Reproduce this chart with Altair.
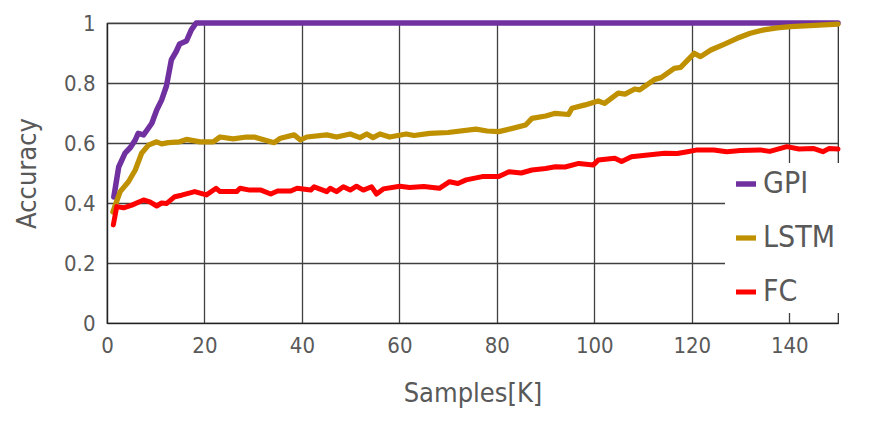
import altair as alt
import pandas as pd

gpi_x = [1.4, 2.4, 3.7, 4.8, 5.8, 6.4, 7.5, 8.3, 9.2, 10.2, 11.2, 12.2, 13.2, 14.2, 14.9, 16.3, 17.3, 18.3, 20, 150]
gpi_y = [0.42, 0.52, 0.566, 0.585, 0.61, 0.632, 0.627, 0.645, 0.666, 0.71, 0.743, 0.79, 0.877, 0.905, 0.93, 0.94, 0.977, 1.0, 1.0, 1.0]

lstm_x = [1.2, 2.7, 4.4, 5.8, 7.1, 8.5, 10.2, 11.2, 12.6, 14.9, 16.3, 19.1, 21.8, 23.2, 25.9, 28.6, 30.2, 34.3,
          35.6, 38.4, 39.7, 41, 45.1, 47.1, 49.9, 51.9, 53.3, 54.6, 56, 58, 61.4, 63, 66.2, 70, 75.7, 78, 80.4,
          83, 85.9, 87.2, 90, 92, 94.7, 95.4, 98.1, 100.8, 102.1, 104.9, 106.3, 108.3, 109.3, 112.4, 113.7,
          116.4, 117.7, 120.5, 121.8, 123.9, 126.6, 129.3, 132, 134.8, 137.5, 140.2, 144.2, 150]
lstm_y = [0.37, 0.438, 0.471, 0.51, 0.566, 0.593, 0.604, 0.597, 0.601, 0.604, 0.612, 0.604, 0.604, 0.62, 0.614,
          0.62, 0.62, 0.601, 0.616, 0.627, 0.61, 0.62, 0.627, 0.62, 0.63, 0.618, 0.63, 0.618, 0.63, 0.62, 0.63,
          0.625, 0.632, 0.635, 0.646, 0.64, 0.638, 0.648, 0.66, 0.682, 0.69, 0.699, 0.695, 0.716, 0.727, 0.74,
          0.732, 0.766, 0.763, 0.78, 0.777, 0.812, 0.818, 0.849, 0.852, 0.899, 0.888, 0.91, 0.929, 0.949, 0.966,
          0.977, 0.984, 0.988, 0.991, 0.996]

fc_x = [1.3, 2.0, 3.4, 5.1, 7.5, 8.8, 10.2, 11.2, 12.2, 13.9, 15.3, 18.0, 20.4, 22.4, 23.2, 26.6, 27.3, 29.3,
        31.6, 33.6, 35, 37.7, 39, 41.8, 42.5, 45.1, 45.8, 47.1, 48.5, 49.9, 51.2, 52.6, 54.3, 55.3, 56.7, 60.1,
        62.1, 65, 68.2, 70.3, 72, 73.7, 77, 80.4, 82.5, 85, 87.2, 90, 92, 94, 96.8, 99.8, 100.8, 104.2, 105.6,
        107.6, 111, 114.4, 117, 119.1, 121.1, 124.5, 127.2, 130, 134, 136, 139.5, 142, 144.9, 146.9, 148.2, 150]
fc_y = [0.327, 0.388, 0.384, 0.393, 0.41, 0.404, 0.39, 0.40, 0.398, 0.421, 0.426, 0.438, 0.427, 0.449, 0.438,
        0.438, 0.449, 0.443, 0.443, 0.43, 0.44, 0.44, 0.449, 0.443, 0.454, 0.438, 0.449, 0.438, 0.454, 0.443,
        0.456, 0.443, 0.454, 0.43, 0.447, 0.456, 0.452, 0.455, 0.449, 0.471, 0.465, 0.477, 0.488, 0.488, 0.504,
        0.5, 0.51, 0.515, 0.521, 0.52, 0.532, 0.527, 0.543, 0.549, 0.538, 0.554, 0.56, 0.566, 0.565, 0.571,
        0.577, 0.577, 0.571, 0.575, 0.577, 0.572, 0.588, 0.58, 0.582, 0.571, 0.582, 0.58]

series = ["GPI", "LSTM", "FC"]
colors = ["#7030A0", "#BF9000", "#FF0000"]
widths = [5.5, 5, 3.5]

rows = []
for name, xs, ys in [("GPI", gpi_x, gpi_y), ("LSTM", lstm_x, lstm_y), ("FC", fc_x, fc_y)]:
    for i, (a, b) in enumerate(zip(xs, ys)):
        rows.append({"series": name, "x": a, "y": b, "i": i})
df = pd.DataFrame(rows)

FONT = "DejaVu Sans Condensed, Liberation Sans Narrow, sans-serif"
GRAY = "#595959"

chart = alt.Chart(df).mark_line(strokeCap="round", strokeJoin="round").encode(
    x=alt.X("x:Q", title="Samples[K]",
            scale=alt.Scale(domain=[0, 150], nice=False, zero=True),
            axis=alt.Axis(values=[0, 20, 40, 60, 80, 100, 120, 140], grid=True, ticks=False,
                          labelFlush=False, labelPadding=12, titlePadding=24)),
    y=alt.Y("y:Q", title="Accuracy",
            scale=alt.Scale(domain=[0, 1], nice=False),
            axis=alt.Axis(values=[0, 0.2, 0.4, 0.6, 0.8, 1.0], grid=True, ticks=False,
                          labelFlush=False, labelPadding=12, titlePadding=22,
                          labelExpr="datum.value == 0 ? '0' : datum.value == 1 ? '1' : format(datum.value, '.1f')")),
    color=alt.Color("series:N", scale=alt.Scale(domain=series, range=colors),
                    legend=alt.Legend(title=None, orient="none", legendX=618, legendY=140,
                                      fillColor="white", padding=6, symbolType="stroke",
                                      symbolSize=400, symbolStrokeWidth=5, labelFontSize=30,
                                      labelFont=FONT, labelColor=GRAY, rowPadding=24,
                                      labelOffset=2)),
    strokeWidth=alt.StrokeWidth("series:N", scale=alt.Scale(domain=series, range=widths), legend=None),
    order="i:Q",
).properties(
    width=731, height=300,
    autosize=alt.AutoSizeParams(type="none"),
    padding={"left": 99, "top": 15, "right": 30, "bottom": 90},
).configure_view(
    stroke="#222222", strokeWidth=1.2
).configure_axis(
    gridColor="#404040", gridWidth=1.3, gridOpacity=1,
    domainColor="#222222", domainWidth=1.2,
    labelFont=FONT, labelFontSize=22, labelColor=GRAY,
    titleFont=FONT, titleFontSize=27, titleColor=GRAY, titleFontWeight="normal",
)

chart.save("out.html", embed_options={"renderer": "svg", "actions": False})
